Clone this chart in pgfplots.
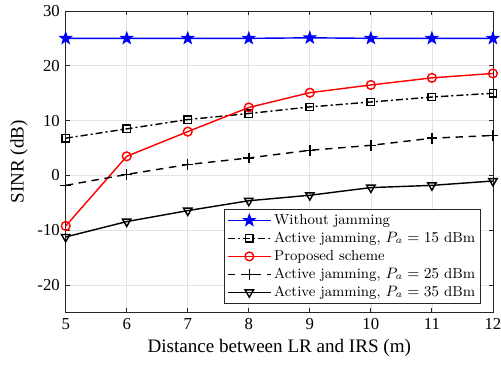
\documentclass[border=0pt]{standalone}
\usepackage{fontspec}
\newfontfamily\timesf{Liberation Serif}
\usepackage{pgfplots}
\pgfplotsset{compat=1.18}
\pgfdeclareplotmark{pentagram}{%
  \pgfpathmoveto{\pgfqpointpolar{90}{\pgfplotmarksize}}%
  \pgfpathlineto{\pgfqpointpolar{126}{0.40\pgfplotmarksize}}%
  \pgfpathlineto{\pgfqpointpolar{162}{\pgfplotmarksize}}%
  \pgfpathlineto{\pgfqpointpolar{198}{0.40\pgfplotmarksize}}%
  \pgfpathlineto{\pgfqpointpolar{234}{\pgfplotmarksize}}%
  \pgfpathlineto{\pgfqpointpolar{270}{0.40\pgfplotmarksize}}%
  \pgfpathlineto{\pgfqpointpolar{306}{\pgfplotmarksize}}%
  \pgfpathlineto{\pgfqpointpolar{342}{0.40\pgfplotmarksize}}%
  \pgfpathlineto{\pgfqpointpolar{18}{\pgfplotmarksize}}%
  \pgfpathlineto{\pgfqpointpolar{54}{0.40\pgfplotmarksize}}%
  \pgfpathclose
  \pgfusepathqfillstroke}
\begin{document}
\begin{tikzpicture}
\begin{axis}[
  scale only axis,
  width=254.3bp, height=179.6bp,
  xmin=5, xmax=12, ymin=-25, ymax=30,
  xtick={5,6,...,12}, xticklabels={5,6,7,8,9,10,11,12},
  ytick={-20,-10,0,10,20,30}, yticklabels={-20,-10,0,10,20,30},
  tick label style={font=\timesf\fontsize{10}{12}\selectfont},
  grid=major, grid style={gray!22, line width=0.4pt},
  axis line style={black!85, line width=0.5pt},
  major tick style={black!85, line width=0.5pt},
  major tick length=2.5bp,
  tick align=inside, tick pos=both,
  xlabel={Distance between LR and IRS (m)},
  ylabel={SINR (dB)},
  label style={font=\timesf\fontsize{11.4}{13}\selectfont},
  xlabel style={yshift=1bp},
  ylabel style={yshift=-1bp},
  legend style={at={(0.9713,0.0278)}, anchor=south east,
    inner xsep=1.5bp, inner ysep=1.5bp, row sep=0pt,
    nodes={font=\fontsize{8.6}{10}\selectfont, text height=6.2bp, text depth=1.7bp, inner ysep=1.4bp, inner xsep=1.5bp},
    draw=black!85, line width=0.5pt, fill=white},
  legend cell align=left,
  legend image code/.code={\draw[mark repeat=2,mark phase=2,#1] plot coordinates {(0bp,0bp) (12.9bp,0bp) (25.8bp,0bp)};},
  every axis plot/.append style={line width=0.85pt},
]
\addplot[blue, mark=pentagram, mark size=3.6bp, mark options={solid, fill=blue, line width=0.6pt}] coordinates {
(5,25) (6,25) (7,25) (8,25) (9,25.1) (10,25) (11,25) (12,25)};
\addlegendentry{Without jamming}
\addplot[black, dash pattern=on 4.2bp off 1.8bp on 1.2bp off 1.8bp, mark=square, mark size=2.2bp, mark options={solid}] coordinates {
(5,6.8) (6,8.5) (7,10.2) (8,11.3) (9,12.5) (10,13.4) (11,14.3) (12,15.0)};
\addlegendentry{Active jamming, $P_a=15$ dBm}
\addplot[red, mark=o, mark size=2.6bp, mark options={solid}] coordinates {
(5,-9.2) (6,3.5) (7,8.0) (8,12.4) (9,15.1) (10,16.5) (11,17.8) (12,18.6)};
\addlegendentry{Proposed scheme}
\addplot[black, dash pattern=on 4.4bp off 3.4bp, mark=+, mark size=3.2bp, mark options={solid}] coordinates {
(5,-1.8) (6,0.2) (7,2.0) (8,3.2) (9,4.6) (10,5.5) (11,6.8) (12,7.3)};
\addlegendentry{Active jamming, $P_a=25$ dBm}
\addplot[black, mark=triangle, mark size=2.9bp, mark options={solid, rotate=180}] coordinates {
(5,-11.2) (6,-8.4) (7,-6.4) (8,-4.6) (9,-3.6) (10,-2.2) (11,-1.8) (12,-1.0)};
\addlegendentry{Active jamming, $P_a=35$ dBm}
\end{axis}
\pgfresetboundingbox
\path[use as bounding box] (-39.1bp,-31.7bp) rectangle (259.1bp,186.1bp);
\end{tikzpicture}
\end{document}
